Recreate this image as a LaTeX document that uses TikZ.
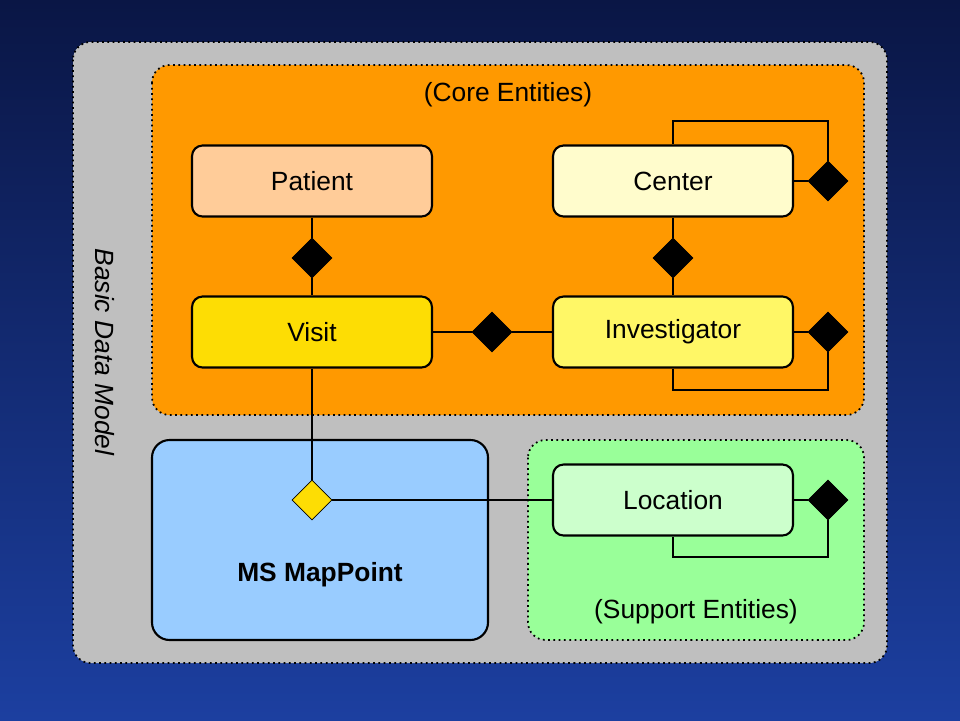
\documentclass[tikz,border=0pt]{standalone}
\usepackage{fontspec}
\setmainfont{Liberation Sans}
\usepackage{xcolor}
\usetikzlibrary{shapes.geometric}
\definecolor{bgtop}{HTML}{0A1645}
\definecolor{bgbot}{HTML}{1C3FA0}
\definecolor{corefill}{HTML}{FF9900}
\definecolor{suppfill}{HTML}{99FF99}
\definecolor{mapfill}{HTML}{99CCFF}
\tikzset{
  entity/.style={draw, line width=1.2pt, rounded corners=6pt, minimum width=4.8cm, minimum height=1.42cm, font=\fontsize{15}{18}\selectfont},
  agg/.style={diamond, draw, fill=black, inner sep=0pt, minimum size=0.8cm},
  link/.style={line width=1.2pt},
  area/.style={line width=1pt, rounded corners=10pt, dotted}
}
\begin{document}
\begin{tikzpicture}[x=0.02cm, y=-0.02cm]
  \shade[top color=bgtop, bottom color=bgbot] (0,0) rectangle (960,720);
  \useasboundingbox (0,0) rectangle (960,720);

  \draw[area, fill=gray!50] (73,42) rectangle (887,663);
  \draw[area, fill=corefill] (152,65) rectangle (864,415);
  \draw[area, fill=suppfill] (528,440) rectangle (864,640);
  \draw[link, rounded corners=10pt, fill=mapfill] (152,440) rectangle (488,640);

  \node[font=\fontsize{15}{18}\selectfont] (core) at (508,95) {(Core Entities)};
  \node[font=\fontsize{15}{18}\selectfont] (supp) at (696,612) {(Support Entities)};
  \node[font=\fontsize{15}{18}\selectfont\bfseries] (mappoint) at (320,575) {MS MapPoint};
  \node[font=\fontsize{15}{18}\selectfont\itshape, rotate=-90] (model) at (105,352) {Basic Data Model};

  \node[entity, fill=orange!40] (patient) at (312,181) {Patient};
  \node[entity, fill=yellow!80!orange] (visit) at (312,332) {Visit};
  \node[entity, fill=yellow!20] (center) at (673,181) {Center};
  \node[entity, fill=yellow!60] (investigator) at (673,332) {Investigator};
  \node[entity, fill=green!20] (location) at (673,500) {Location};

  \node[agg] (d1) at (312,258) {};
  \node[agg] (d2) at (673,258) {};
  \node[agg] (d3) at (492,332) {};
  \node[agg] (d4) at (828,181) {};
  \node[agg] (d5) at (828,332) {};
  \node[agg] (d6) at (828,500) {};
  \node[agg, fill=yellow!80!orange] (dmap) at (312,500) {};

  \draw[link] (patient) -- (d1) -- (visit);
  \draw[link] (center) -- (d2) -- (investigator);
  \draw[link] (visit) -- (d3) -- (investigator);
  \draw[link] (center) -- (d4);
  \draw[link] (d4.north) |- (673,121) -- (center.north);
  \draw[link] (investigator) -- (d5);
  \draw[link] (d5.south) |- (673,390) -- (investigator.south);
  \draw[link] (location) -- (d6);
  \draw[link] (d6.south) |- (673,557) -- (location.south);
  \draw[link] (visit) -- (dmap);
  \draw[link] (dmap) -- (location);
\end{tikzpicture}
\end{document}
